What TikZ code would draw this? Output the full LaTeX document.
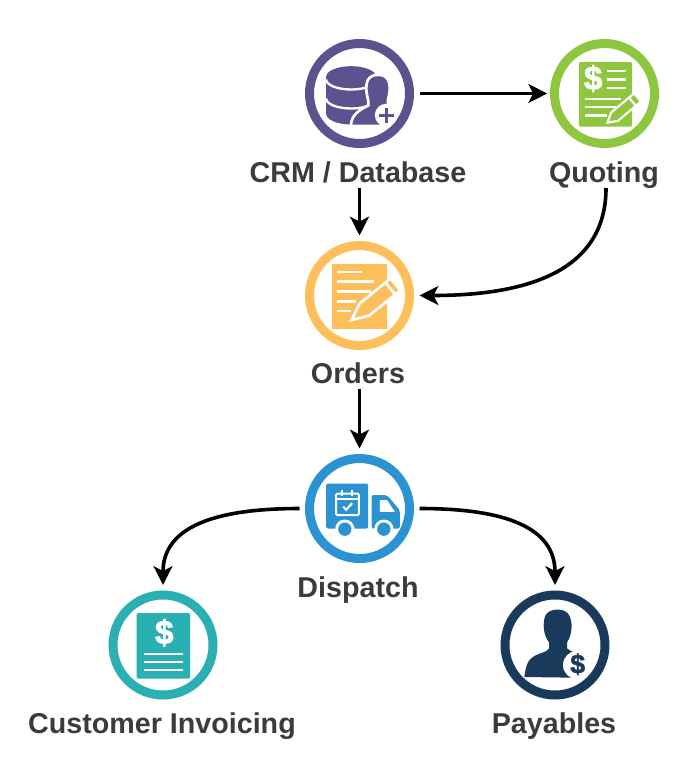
\documentclass[tikz,border=0pt]{standalone}
\usepackage{fontspec}
\setmainfont{Liberation Sans}
\newfontfamily\signfont[FakeBold=2]{Liberation Sans Bold}
\usetikzlibrary{arrows.meta}
\definecolor{crmcol}{HTML}{5B5390}
\definecolor{quotecol}{HTML}{8FC63F}
\definecolor{ordercol}{HTML}{FDBE5B}
\definecolor{dispatchcol}{HTML}{2B93D1}
\definecolor{invoicecol}{HTML}{2AB0B3}
\definecolor{payablecol}{HTML}{1A3A5C}
\definecolor{labelcol}{HTML}{3B3B3B}
\tikzset{
  ring/.style={circle,draw=#1,line width=6.75pt,minimum size=75pt,inner sep=0pt,outer sep=7.5pt},
  caption/.style={anchor=base,font=\bfseries\fontsize{21.5pt}{24pt}\selectfont,text=labelcol,
    inner sep=0pt,outer xsep=0pt,outer ysep=4.5pt,text depth=0pt},
  flow/.style={draw=black,line width=2.7pt,-{Stealth[length=14pt,width=14pt,inset=3.5pt]}},
  rule/.style={white,line width=1.75pt}
}
% Pencil laid along +x from its tip; #1 colour, #2 length, #3 width, #4 tip length, #5 outline width
\newcommand{\pencilglyph}[5]{
  \draw[white,line width=#5,fill=#1,miter limit=10]
    (10,0) -- (#4,#3/2) -- (#2,#3/2) -- (#2,-#3/2) -- (#4,-#3/2) -- cycle;
  \draw[white,line width=#5] (#2-20,#3/2) -- (#2-20,-#3/2);
}
\begin{document}
\begin{tikzpicture}[x=.75pt,y=-.75pt]
\useasboundingbox (0,0) rectangle (688,779);

% Rings
\node[ring=crmcol]      (crm)      at (359.5,93.5)  {};
\node[ring=quotecol]    (quote)    at (604.5,93.5)  {};
\node[ring=ordercol]    (orders)   at (359.5,295.5) {};
\node[ring=dispatchcol] (dispatch) at (359.5,508.5) {};
\node[ring=invoicecol]  (invoice)  at (163,645) {};
\node[ring=payablecol]  (payables) at (555,645) {};

% Captions
\node[caption] (crml)  at (358,182) {CRM / Database};
\node[caption] (quotel) at (604,182) {Quoting};
\node[caption] (ordl)  at (358,383) {Orders};
\node[caption] (disl)  at (358,597) {Dispatch};
\node[caption] (invl)  at (162,733) {Customer Invoicing};
\node[caption] (payl)  at (554,733) {Payables};

% Connectors
\draw[flow,shorten >=-2pt] (crm.east) -- (quote.west);
\draw[flow] (crm.south |- crml.south) -- (orders.north);
\draw[flow] ([xshift=1.5pt]quotel.south) .. controls +(0,82) and +(110,0) .. (orders.east);
\draw[flow] (orders.south |- ordl.south) -- (dispatch.north);
\draw[flow] (dispatch.west) .. controls +(-85,0) and +(0,-58) .. (invoice.north);
\draw[flow] (dispatch.east) .. controls +(85,0) and +(0,-58) .. (payables.north);

% Database with customer
\begin{scope}[shift={(crm.center)},x=.25pt,y=-.25pt]
  \fill[crmcol] (-100,-50) arc[start angle=180,end angle=360,x radius=75,y radius=32]
    -- (50,61) arc[start angle=0,end angle=180,x radius=75,y radius=32] -- cycle;
  \draw[rule] (-100,-42) arc[start angle=180,end angle=0,x radius=75,y radius=30];
  \draw[rule] (-100,15) arc[start angle=180,end angle=0,x radius=75,y radius=30];
  \fill[crmcol,draw=white,line width=2pt] (-26,97) .. controls (-24,62) and (0,50) .. (26,36)
    -- (26,20) .. controls (10,-40) and (30,-56) .. (56,-56)
    .. controls (84,-56) and (100,-35) .. (85,20) -- (85,36) -- (90,97) -- cycle;
  \fill[white] (80,65) circle[radius=34];
  \fill[crmcol] (58,60) rectangle (102,70);
  \fill[crmcol] (75,43) rectangle (85,87);
\end{scope}

% Quote sheet
\begin{scope}[shift={(quote.center)},x=.25pt,y=-.25pt]
  \fill[quotecol,rounded corners=1pt] (-77,-94) rectangle (83,99);
  \node[text=white,font=\signfont\fontsize{25pt}{25pt}\selectfont,inner sep=0pt] (quotesign) at (-34,-45) {\$};
  \foreach \yy in {-67,-42,-17} \draw[rule] (8,\yy) -- (63,\yy);
  \draw[rule] (-59,16) -- (48,16);
  \draw[rule] (-59,41) -- (33,41);
  \draw[rule] (-59,66) -- (8,66);
  \begin{scope}[shift={(1,94)},rotate=40]
    \pencilglyph{quotecol}{128}{32}{38}{1.6pt}
  \end{scope}
\end{scope}

% Order sheet
\begin{scope}[shift={(orders.center)},x=.25pt,y=-.25pt]
  \fill[ordercol] (-84,-95) rectangle (81,100);
  \draw[rule] (-67,-70) -- (6,-70);
  \foreach \yy/\xx in {-42/43,-12/33,18/-10,47/-25} \draw[rule] (-67,\yy) -- (\xx,\yy);
  \begin{scope}[shift={(-32,80)},rotate=39]
    \pencilglyph{ordercol}{180}{46}{60}{2pt}
  \end{scope}
\end{scope}

% Delivery truck with calendar
\begin{scope}[shift={(dispatch.center)},x=.25pt,y=-.25pt]
  \fill[dispatchcol,rounded corners=1.5pt] (-100,-75) rectangle (26,60);
  \fill[dispatchcol,rounded corners=1.5pt] (36,-40) -- (83,-40) -- (121,5) -- (121,60) -- (36,60) -- cycle;
  \fill[white] (61,-25) -- (83,-25) -- (106,10) -- (61,10) -- cycle;
  \draw[white,line width=1.5pt,rounded corners=1pt] (-70,-45) rectangle (-2,20);
  \draw[white,line width=1.5pt] (-70,-30) -- (-2,-30);
  \draw[white,line width=1.5pt] (-52,-55) -- (-52,-38) (-22,-55) -- (-22,-38);
  \draw[white,line width=1.6pt] (-49,-6) -- (-40,4) -- (-22,-16);
  \fill[white] (-44,62) circle[radius=29] (73,62) circle[radius=29];
  \fill[dispatchcol] (-44,62) circle[radius=20] (73,62) circle[radius=20];
\end{scope}

% Invoice sheet
\begin{scope}[shift={(invoice.center)},x=.25pt,y=-.25pt]
  \fill[invoicecol,rounded corners=1pt] (-79,-96) rectangle (81,101);
  \node[text=white,font=\signfont\fontsize{25pt}{25pt}\selectfont,inner sep=0pt] (invoicesign) at (4,-37) {\$};
  \foreach \yy in {26,50,74} \draw[rule] (-57,\yy) -- (61,\yy);
\end{scope}

% Payee with coin
\begin{scope}[shift={(payables.center)},x=.25pt,y=-.25pt]
  \fill[payablecol] (-92,96) .. controls (-88,60) and (-80,42) .. (-60,32)
    .. controls (-40,22) and (-22,20) .. (-18,10) -- (-18,-8)
    .. controls (-36,-30) and (-38,-70) .. (-28,-90)
    .. controls (-15,-112) and (30,-112) .. (42,-90)
    .. controls (54,-70) and (52,-30) .. (36,-8) -- (36,10)
    .. controls (45,20) and (70,25) .. (80,32) -- (80,98) -- (55,98) -- cycle;
  \fill[white] (66,60) circle[radius=42];
  \node[text=payablecol,font=\signfont\fontsize{20pt}{20pt}\selectfont,inner sep=0pt] (payablesign) at (68,58) {\$};
\end{scope}
\end{tikzpicture}
\end{document}
